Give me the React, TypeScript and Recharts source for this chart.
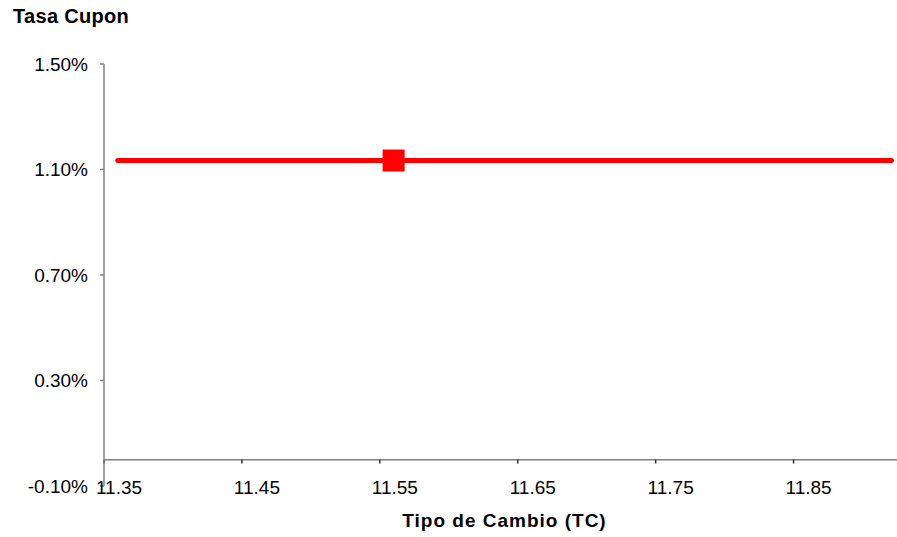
import {
  ComposedChart,
  Line,
  Scatter,
  XAxis,
  YAxis,
  ReferenceLine,
} from "recharts";

const tipoCambioTicks = [11.35, 11.45, 11.55, 11.65, 11.75, 11.85];
const tasaTicks = [-0.1, 0.3, 0.7, 1.1, 1.5];

// the red line (start and end of the series)
const lineaTC = [11.36, 11.921];
const lineaTasa = [1.134, 1.134];

// highlighted point
const puntoTC = [11.56];
const puntoTasa = [1.134];

const lineData = lineaTC.map((tc, i) => ({ tc, tasa: lineaTasa[i] }));
const pointData = puntoTC.map((tc, i) => ({ tc, tasa: puntoTasa[i] }));

const FONT = "'Liberation Sans', Arial, sans-serif";
const AXIS_GRAY = "#808080";

const XTick = (props: any) => {
  const { x, y, payload } = props;
  return (
    <text
      x={x + 15}
      y={y}
      dy="0.4em"
      textAnchor="middle"
      fill="#000"
      fontSize={19}
      fontFamily={FONT}
    >
      {payload.value.toFixed(2)}
    </text>
  );
};

const SquareDot = (props: any) => {
  const { cx, cy } = props;
  return <rect x={cx - 11} y={cy - 11} width={22} height={22} fill="#ff0000" />;
};

export default function App() {
  return (
    <div style={{ position: "relative", width: 897, height: 537, background: "#fff", overflow: "hidden" }}>
      <style>{`body { margin: 0; }`}</style>
      <div
        style={{
          position: "absolute",
          left: 13,
          top: 6,
          fontFamily: FONT,
          fontWeight: "bold",
          fontSize: 20,
          lineHeight: 1,
          letterSpacing: 0.3,
          color: "#000",
        }}
      >
        Tasa Cupon
      </div>
      <ComposedChart
        width={897}
        height={537}
        margin={{ top: 64, right: 0, left: 0, bottom: 0 }}
      >
        <XAxis
          dataKey="tc"
          type="number"
          domain={[11.35, 11.925]}
          ticks={tipoCambioTicks}
          interval={0}
          allowDataOverflow
          height={51}
          axisLine={false}
          tickLine={false}
          tickSize={0}
          tickMargin={0}
          tick={<XTick />}
          label={{
            value: "Tipo de Cambio (TC)",
            position: "insideBottom",
            offset: 10,
            dx: 4,
            fill: "#000",
            fontSize: 19,
            fontWeight: "bold",
            fontFamily: FONT,
            letterSpacing: 1,
          }}
        />
        <YAxis
          dataKey="tasa"
          type="number"
          domain={[-0.1, 1.5]}
          ticks={tasaTicks}
          interval={0}
          width={104}
          axisLine={{ stroke: AXIS_GRAY, strokeWidth: 1.5 }}
          tickLine={{ stroke: AXIS_GRAY, strokeWidth: 1.5 }}
          tickSize={4}
          tickMargin={12}
          tickFormatter={(v: number) => v.toFixed(2) + "%"}
          tick={{ fill: "#000", fontSize: 19, fontFamily: FONT }}
        />
        <ReferenceLine y={0} stroke={AXIS_GRAY} strokeWidth={1.5} />
        {tipoCambioTicks.map((t) => (
          <ReferenceLine
            key={t}
            segment={[
              { x: t, y: 0 },
              { x: t, y: -0.015 },
            ]}
            stroke="#333"
            strokeWidth={1.5}
          />
        ))}
        <Line
          data={lineData}
          dataKey="tasa"
          type="linear"
          stroke="#ff0000"
          strokeWidth={5}
          strokeLinecap="round"
          dot={false}
          activeDot={false}
          isAnimationActive={false}
        />
        <Scatter
          data={pointData}
          dataKey="tasa"
          shape={<SquareDot />}
          isAnimationActive={false}
        />
      </ComposedChart>
    </div>
  );
}
